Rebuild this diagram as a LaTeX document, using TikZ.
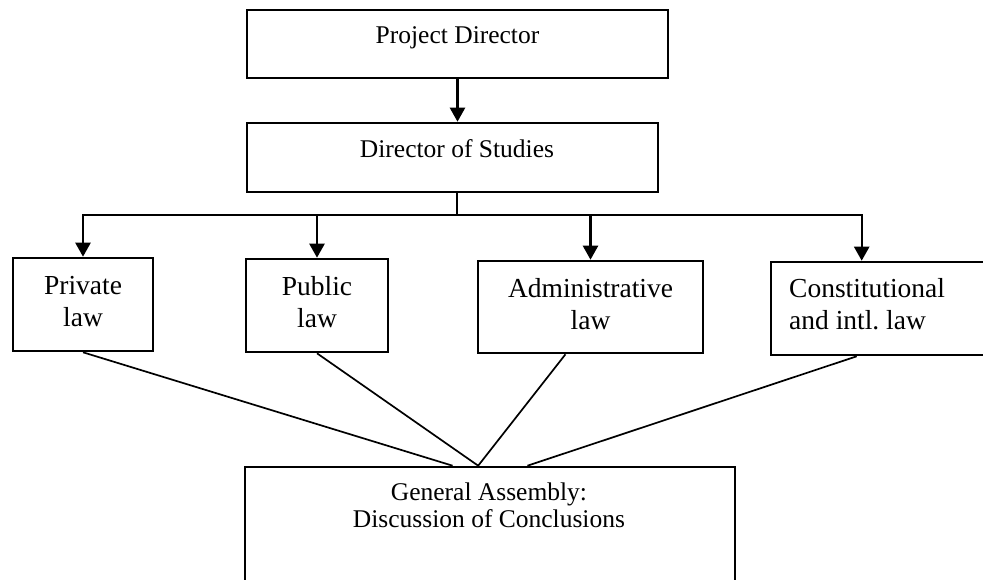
\documentclass[tikz,border=0pt]{standalone}
\usepackage{fontspec}
\setmainfont{Liberation Serif}
\usetikzlibrary{arrows.meta,calc}
\begin{document}
\frenchspacing
\begin{tikzpicture}[x=1pt,y=-1pt,
  box/.style={draw, line width=2.6pt, inner sep=0pt},
  toptxt/.style={font=\fontsize{25.5}{27}\selectfont, inner sep=0pt, align=center},
  lawtxt/.style={font=\fontsize{27.5}{32}\selectfont, inner sep=0pt, align=center},
  arr/.style={line width=2.4pt, -{Triangle[width=15pt,length=14pt]}},
  link/.style={line width=1.7pt}]
\useasboundingbox (0,0) rectangle (983,579);
\clip (0,0) rectangle (983,579);
\fill[white] (0,0) rectangle (983,579);
% boxes
\node[box, minimum width=421pt, minimum height=68pt] (pd) at (457.5,44) {};
\node[box, minimum width=411pt, minimum height=69pt] (ds) at (452.5,157.5) {};
\node[box, minimum width=140pt, minimum height=93pt] (priv) at (83,304.5) {};
\node[box, minimum width=142pt, minimum height=93pt] (pub) at (317,305.5) {};
\node[box, minimum width=225pt, minimum height=92pt] (adm) at (590.5,307) {};
\node[box, minimum width=224pt, minimum height=93pt] (con) at (883,308.5) {};
\node[box, minimum width=490pt, minimum height=153pt] (ga) at (490,543.5) {};
% texts
\node[toptxt, anchor=base] (pdt) at (457.5,43) {Project Director};
\node[toptxt, anchor=base] (dst) at (457,157) {Director of Studies};
\node[lawtxt] (privt) at (83,301.6) {Private\\law};
\node[lawtxt] (pubt) at (317,301.6) {Public\\law};
\node[lawtxt] (admt) at (590.5,304) {Administrative\\law};
\node[lawtxt, align=left, anchor=west] (cont) at (789,304.6) {Constitutional\\and intl.\ law};
\node[toptxt] (gat) at (489,504.8) {General Assembly:\\Discussion of Conclusions};
% connectors
\coordinate (j) at (457,215);
\coordinate (cx) at ($(con.north west)!0.406!(con.north east)$);
\draw[arr] (pd.south) -- (pd.south |- ds.north);
\draw[line width=2.4pt] (j |- ds.south) -- (j);
\draw[arr] (j) -| (priv.north);
\draw[arr] (j) -| (pub.north);
\draw[arr] (j) -| (adm.north);
\draw[arr] (j) -| (cx);
\draw[link] (priv.south) -- ($(ga.north west)!0.424!(ga.north east)$);
\draw[link] (pub.south) -- ($(ga.north west)!0.476!(ga.north east)$);
\draw[link] ($(adm.south west)!0.39!(adm.south east)$) -- ($(ga.north west)!0.476!(ga.north east)$);
\draw[link] ($(con.south west)!0.384!(con.south east)$) -- ($(ga.north west)!0.576!(ga.north east)$);
\end{tikzpicture}
\end{document}
